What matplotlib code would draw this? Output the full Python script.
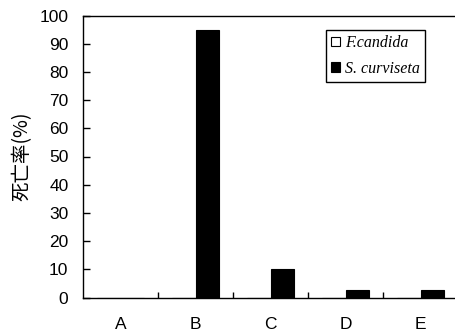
import matplotlib
matplotlib.use("Agg")
import matplotlib.pyplot as plt
from matplotlib.patches import Patch
import numpy as np

plt.rcParams['font.family'] = ['Liberation Sans', 'Noto Sans CJK JP', 'DejaVu Sans']

categories = ['A', 'B', 'C', 'D', 'E']
f_candida = [0, 0, 0, 0, 0]
s_curviseta = [0, 95, 10, 2.5, 2.5]
series_names = ['F.candida', 'S. curviseta']
y_label = '死亡率(%)'

fig = plt.figure(figsize=(4.55, 3.32), dpi=100)
ax = fig.add_axes([83 / 455, 1 - 297.5 / 332, (455 - 83) / 455, (297.5 - 15.5) / 332])

x = np.arange(len(categories))
w = 0.31
ax.bar(x - w / 2, f_candida, w, color='white', edgecolor='black', linewidth=0.8)
ax.bar(x + w / 2, s_curviseta, w, color='black', edgecolor='black', linewidth=0.8)

ax.set_xlim(-0.5, -0.5 + (455 - 83) / 75)
ax.set_ylim(0, 100)
ax.set_yticks(range(0, 101, 10))
ax.tick_params(axis='y', direction='in', length=5, width=1, labelsize=12.5, pad=10.5)
ax.set_xticks(x)
ax.set_xticklabels(categories)
ax.tick_params(axis='x', which='major', length=0, labelsize=12.5, pad=14)
ax.set_xticks(x[:-1] + 0.5, minor=True)
ax.tick_params(axis='x', which='minor', direction='in', length=4, width=1)
for s in ax.spines.values():
    s.set_linewidth(1)
ax.spines['right'].set_visible(False)

ax.set_ylabel(y_label, fontsize=14, family=['Noto Sans CJK JP', 'DejaVu Sans'], labelpad=5)

handles = [Patch(facecolor='white', edgecolor='black', linewidth=0.8),
           Patch(facecolor='black', edgecolor='black', linewidth=0.8)]
leg = ax.legend(handles, series_names, loc='upper right', bbox_to_anchor=(0.919, 0.947),
                prop={'family': 'Liberation Serif', 'style': 'italic', 'size': 11.5},
                fancybox=False, framealpha=1, edgecolor='black',
                handlelength=0.55, handleheight=0.55, handletextpad=0.35,
                borderpad=0.3, labelspacing=0.6, borderaxespad=0)
leg.get_frame().set_linewidth(1)

fig.savefig('out.png', dpi=100)
